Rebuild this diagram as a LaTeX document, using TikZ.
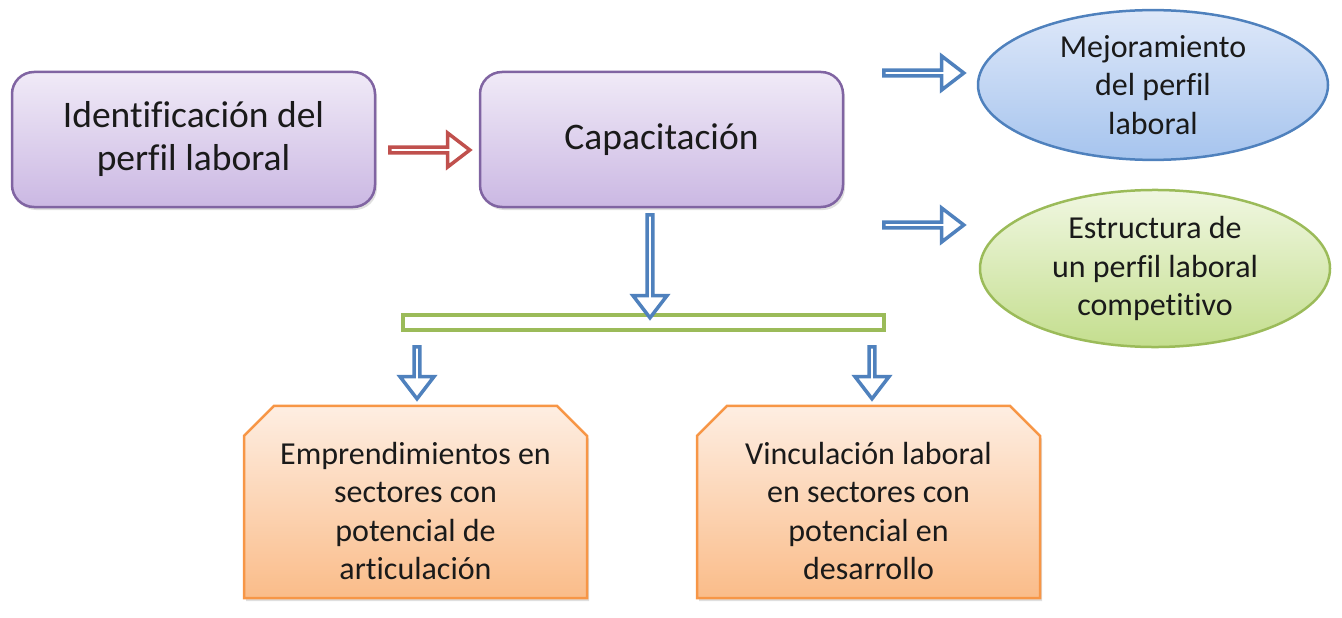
\documentclass[tikz,border=0pt]{standalone}
\usepackage{fontspec}
\setmainfont[Ligatures=NoCommon]{Carlito}
\usetikzlibrary{shapes.geometric}
\usetikzlibrary{shapes.misc}
\usetikzlibrary{shapes.arrows}
\usetikzlibrary{shadows}

\definecolor{morado}{HTML}{8064A2}
\definecolor{azul}{HTML}{4F81BD}
\definecolor{rojo}{HTML}{C0504D}
\definecolor{verde}{HTML}{9BBB59}
\definecolor{naranja}{HTML}{F79646}
\definecolor{texto}{HTML}{1A1A1A}

\newcommand{\bajar}{\rule{0pt}{40pt}}

\tikzset{
  sombra/.style={drop shadow={shadow xshift=2pt, shadow yshift=-3pt, opacity=0.25}},
  perfilbox/.style={draw=morado, line width=2.5pt, rounded corners=22pt, top color={rgb,255:red,240;green,234;blue,247},
    bottom color={rgb,255:red,203;green,184;blue,227},
    minimum width=363pt, minimum height=135pt, align=center, text=texto, font=\fontsize{37.5}{43}\selectfont, sombra},
  ovalbox/.style={draw=#1, line width=2.5pt, ellipse, minimum width=350pt, minimum height=148pt, align=center,
    text=texto, font=\fontsize{32}{38.5}\selectfont},
  metabox/.style={draw=naranja, line width=2.5pt, chamfered rectangle, chamfered rectangle corners={north west, north east},
    chamfered rectangle xsep=15pt, chamfered rectangle ysep=15pt, top color={rgb,255:red,254;green,238;blue,226},
    bottom color={rgb,255:red,250;green,188;blue,137},
    minimum width=343pt, minimum height=192pt, align=center, text=texto, font=\fontsize{32}{38.5}\selectfont, sombra},
  flecha/.style={draw=#1, line width=3.5pt, fill=white, single arrow, single arrow tip angle=75,
    single arrow head extend=9pt, inner sep=0pt, minimum width=34pt},
}

\begin{document}
\begin{tikzpicture}[x=1pt, y=-1pt]
  \useasboundingbox (0,0) rectangle (1342,618);

  \node[perfilbox] (ident) at (193.5, 139.5) {Identificación del\\perfil laboral};
  \node[perfilbox] (capac) at (661.5, 139.5) {Capacitación};

  \node[ovalbox=azul, top color={rgb,255:red,222;green,232;blue,249}, bottom color={rgb,255:red,166;green,196;blue,238}] (mejora) at (1153, 85) {Mejoramiento\\del perfil\\laboral};
  \node[ovalbox=verde, top color={rgb,255:red,240;green,247;blue,225}, bottom color={rgb,255:red,196;green,222;blue,142}] (estruc) at (1155, 268.5) {Estructura de\\un perfil laboral\\competitivo};

  \node[draw=verde, line width=3.5pt, fill=white, minimum width=481pt, minimum height=15pt, inner sep=0pt] (barra) at (643.5, 322.5) {};

  \node[metabox] (empren) at (415.5, 502) {\bajar Emprendimientos en\\sectores con\\potencial de\\articulación};
  \node[metabox] (vincul) at (868.5, 502) {\bajar Vinculación laboral\\en sectores con\\potencial en\\desarrollo};

  % flechas
  \node[flecha=rojo, minimum height=80pt] (f1) at (428, 150) {};
  \node[flecha=azul, minimum height=80pt] (f2) at (922, 73) {};
  \node[flecha=azul, minimum height=80pt] (f3) at (922, 225) {};
  \node[flecha=azul, minimum height=103pt, rotate=-90] (f4) at (650, 264.5) {};
  \node[flecha=azul, minimum height=52pt, rotate=-90] (f5) at (417, 371) {};
  \node[flecha=azul, minimum height=52pt, rotate=-90] (f6) at (872, 371) {};
\end{tikzpicture}
\end{document}
